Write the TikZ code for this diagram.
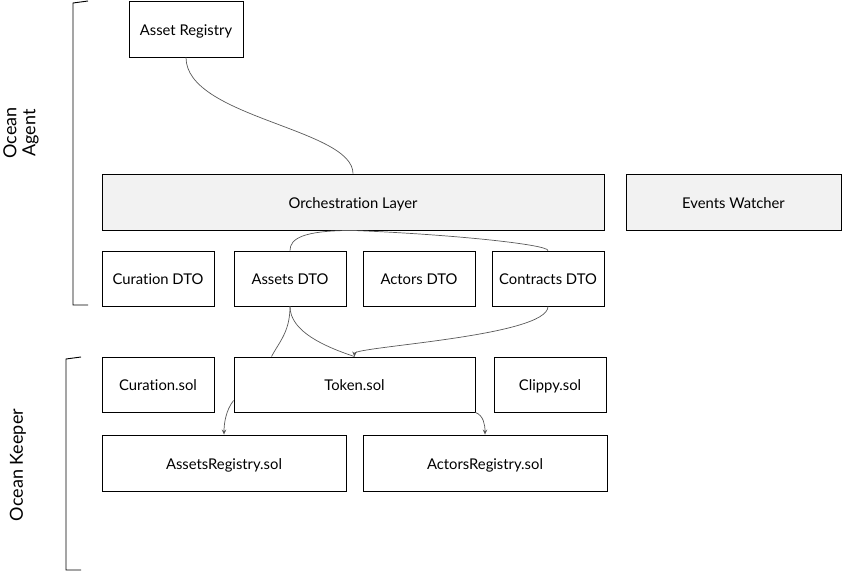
\documentclass[tikz,border=0pt]{standalone}
\usepackage{fontspec}
\setmainfont{Lato}[Ligatures=NoCommon]
\usetikzlibrary{arrows.meta}
\tikzset{
  box/.style   = { draw, line width=0.9pt, inner sep=0pt, minimum height=55pt, text height=14pt, text depth=1.5pt, font=\fontsize{14.8}{17}\selectfont },
  layer/.style = { box, fill=black!5 },
  link/.style  = { draw=black!65, line width=0.7pt },
  tip/.style   = { link, -{Stealth[length=5pt,width=4.5pt]} },
  brace/.style = { line width=0.9pt },
  side/.style  = { rotate=90, align=center, font=\fontsize{18}{19}\selectfont }
}
\begin{document}
\begin{tikzpicture}[x=1pt,y=-1pt]
    \useasboundingbox (0,0) rectangle (845,572);

    \node[box, minimum width=114pt, minimum height=56pt] (registry) at (186,29) {Asset Registry};

    \node[layer, minimum width=502pt, minimum height=56pt] (orch) at (353,202) {Orchestration Layer};
    \node[layer, minimum width=215pt, minimum height=56pt] (events) at (733.5,202) {Events Watcher};

    \node[box, minimum width=112pt] (curdto) at (158,278.5) {Curation DTO};
    \node[box, minimum width=112pt] (assetdto) at (290,278.5) {Assets DTO};
    \node[box, minimum width=112pt] (actordto) at (419,278.5) {Actors DTO};
    \node[box, minimum width=112pt] (contractdto) at (548,278.5) {Contracts DTO};

    \node[box, minimum width=112pt] (cursol) at (158,384.5) {Curation.sol};
    \node[box, minimum width=241pt] (token) at (354.5,384.5) {Token.sol};
    \node[box, minimum width=112pt] (clippy) at (550,384.5) {Clippy.sol};

    \node[box, minimum width=244pt, minimum height=56pt] (assetreg) at (224,463) {AssetsRegistry.sol};
    \node[box, minimum width=244pt, minimum height=56pt] (actorreg) at (485,463) {ActorsRegistry.sol};

    \draw[link] (registry.south) .. controls +(0,60) and +(0,-45) .. (orch.north);
    \draw[link] (orch.south) .. controls +(-50,0) and +(0,-12) .. (assetdto.north);
    \draw[link] (orch.south) .. controls +(100,4) and +(0,-6) .. (contractdto.north);

    \draw[link] (assetdto.south) .. controls +(0,25) and +(8,-15) .. ([xshift=-83pt]token.north);
    \draw[link] (assetdto.south) .. controls +(0,25) and +(-30,-10) .. (token.north);
    \draw[tip] (contractdto.south) .. controls +(0,30) and +(0,-10) .. (token.north);

    \draw[tip] ([yshift=-16pt]token.west) .. controls +(-8,10) and +(0,-10) .. (assetreg.north);
    \draw[tip] (token.south east) .. controls +(8,3) and +(0,-10) .. (actorreg.north);

    \draw[brace] (88,1) -- (73,3) -- (73,305) -- (88,305);
    \draw[brace] (81,357) -- (66,359) -- (66,570) -- (81,570);

    \node[side] (agent) at (21,133) {Ocean\\Agent};
    \node[side] (keeper) at (18,465) {Ocean Keeper};
\end{tikzpicture}
\end{document}
